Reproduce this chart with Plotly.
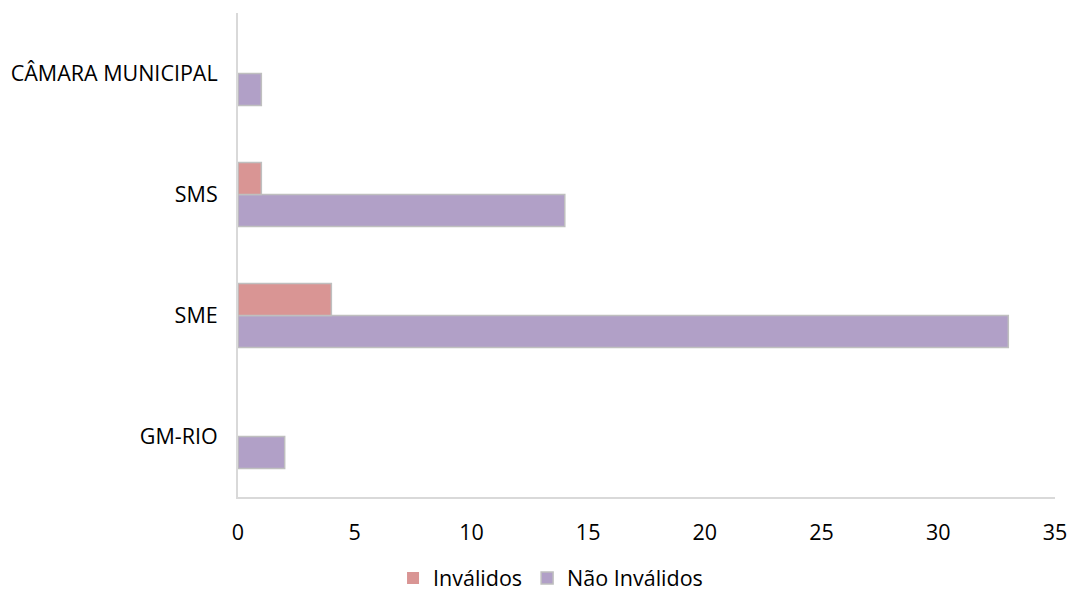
import plotly.graph_objects as go

categories = ["GM-RIO", "SME", "SMS", "CÂMARA MUNICIPAL"]
invalidos = [0, 4, 1, 0]
nao_invalidos = [2, 33, 14, 1]
x_ticks = [0, 5, 10, 15, 20, 25, 30, 35]

font_family = "Open Sans, Lato, sans-serif"


def edge_widths(vals):
    return [1.5 if v else 0 for v in vals]


fig = go.Figure()
fig.add_trace(go.Bar(
    y=categories, x=nao_invalidos, orientation="h", name="Não Inválidos",
    marker=dict(color="#B1A0C7", line=dict(color="#BFBFBF", width=edge_widths(nao_invalidos))),
))
fig.add_trace(go.Bar(
    y=categories, x=invalidos, orientation="h", name="Inválidos",
    marker=dict(color="#D99594", line=dict(color="#BFBFBF", width=edge_widths(invalidos))),
))

fig.update_layout(
    width=1069, height=596,
    margin=dict(l=238, r=14, t=13, b=99, autoexpand=False),
    barmode="group", bargap=0.47, bargroupgap=0,
    plot_bgcolor="white", paper_bgcolor="white",
    font=dict(family=font_family, size=21.5, color="#000000"),
    showlegend=True,
    legend=dict(
        orientation="h", traceorder="reversed",
        xref="container", x=0.515, xanchor="center",
        yref="container", y=0.03, yanchor="middle",
        font=dict(size=21.5), itemwidth=30,
    ),
    xaxis=dict(
        range=[0, 35], tickvals=x_ticks, ticktext=[str(t) for t in x_ticks],
        showgrid=False, zeroline=False, showline=True, automargin=False,
        linecolor="#D9D9D9", linewidth=2, ticks="", ticklabelstandoff=15,
    ),
    yaxis=dict(
        categoryorder="array", categoryarray=categories,
        showgrid=False, zeroline=False, showline=True, automargin=False,
        linecolor="#D9D9D9", linewidth=2, ticks="", ticklabelstandoff=14,
    ),
)

fig.write_html("out.html", config={"displayModeBar": False},
               post_script="document.body.style.margin='0';")
